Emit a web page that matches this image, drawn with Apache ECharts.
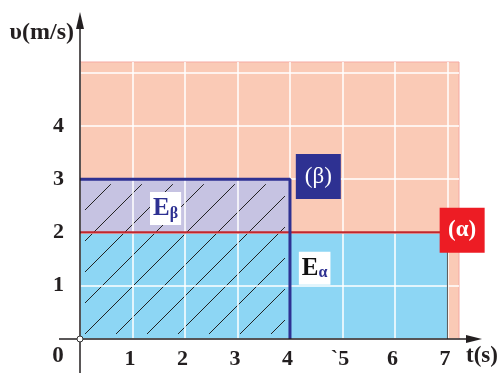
<!DOCTYPE html>
<html>
<head>
<meta charset="utf-8">
<script src="https://cdn.jsdelivr.net/npm/echarts@6/dist/echarts.min.js"></script>
<style>html,body{margin:0;padding:0;background:#fff}#chart{width:502px;height:373px}</style>
</head>
<body>
<div id="chart"></div>
<script>
// data
var xTickLabels = ['0', '1', '2', '3', '4', '`5', '6', '7'];
var yTickLabels = ['0', '1', '2', '3', '4'];
var alphaT = [0, 7];      // body (α): 2 m/s during 0..7 s
var alphaV = 2;
var betaT = [0, 4];       // body (β): 3 m/s during 0..4 s
var betaV = 3;
var tMax = 7.22, vMax = 5.2;
var tagNames = ['(β)', '(α)'];
var tagPos = [[4.54, 3.05], [7.28, 2.04]];
var areaNames = ['β', 'α'];
var areaPos = [[1.63, 2.45], [4.47, 1.33]];

var serif = '"Liberation Serif", "DejaVu Serif", serif';
var navy = '#2E3192';

function rectItem(color) {
    return function (params, api) {
        var p0 = api.coord([api.value(0), api.value(3)]);
        var p1 = api.coord([api.value(1), api.value(2)]);
        return {
            type: 'rect',
            shape: { x: p0[0], y: p0[1], width: p1[0] - p0[0], height: p1[1] - p0[1] },
            style: { fill: color }
        };
    };
}

// diagonal hatching inside a rectangle, 45 degrees on screen
function hatchItem(params, api) {
    var p0 = api.coord([api.value(0), api.value(3)]);
    var p1 = api.coord([api.value(1), api.value(2)]);
    var ins = 5, step = 31;
    var X0 = p0[0] + ins, X1 = p1[0] - ins, Yt = p0[1] + ins, Yb = p1[1] - ins;
    var h = Yb - Yt;
    var kids = [];
    for (var c = X0 - Math.ceil(h / step) * step; c < X1; c += step) {
        var xs = Math.max(X0, c), xe = Math.min(X1, c + h);
        if (xe - xs < 2) continue;
        kids.push({
            type: 'line',
            shape: { x1: xs, y1: Yb - (xs - c), x2: xe, y2: Yb - (xe - c) },
            style: { stroke: '#222', lineWidth: 1 }
        });
    }
    return { type: 'group', children: kids };
}

var myChart = echarts.init(document.getElementById('chart'));

var option = {
    animation: false,
    grid: {
        left: 80, right: 502 - 80 - 379, top: 62, bottom: 34,
        show: true, backgroundColor: '#FACAB6', borderColor: '#F5A9A2', borderWidth: 1
    },
    xAxis: {
        type: 'value', min: 0, max: tMax, interval: 1, z: 3,
        axisLine: { show: false }, axisTick: { show: false },
        splitLine: { show: true, showMaxLine: false, lineStyle: { color: '#fff', width: 1.5 } },
        axisLabel: {
            margin: 9, padding: [0, 5, 0, 0], color: '#231F20',
            fontFamily: serif, fontWeight: 'bold', fontSize: 22,
            formatter: function (v) { return (v > 0 && v === Math.round(v)) ? xTickLabels[v] : ''; }
        }
    },
    yAxis: {
        type: 'value', min: 0, max: vMax, interval: 1, z: 3,
        axisLine: { show: false }, axisTick: { show: false },
        splitLine: { show: true, showMaxLine: false, lineStyle: { color: '#fff', width: 1.5 } },
        axisLabel: {
            margin: 16, color: '#231F20',
            fontFamily: serif, fontWeight: 'bold', fontSize: 22,
            formatter: function (v) { return (v > 0 && v < yTickLabels.length && v === Math.round(v)) ? yTickLabels[v] : ''; }
        }
    },
    series: [
        {
            type: 'custom', z: 1, renderItem: rectItem('#8DD6F4'),
            encode: { x: [0, 1], y: [2, 3] },
            data: [[alphaT[0], alphaT[1], 0, alphaV]]
        },
        {
            type: 'custom', z: 1, renderItem: rectItem('#C6C3E2'),
            encode: { x: [0, 1], y: [2, 3] },
            data: [[betaT[0], betaT[1], alphaV, betaV]]
        },
        {
            type: 'custom', z: 2, renderItem: hatchItem,
            encode: { x: [0, 1], y: [2, 3] },
            data: [[betaT[0], betaT[1], 0, betaV]]
        },
        {
            type: 'line', z: 4, symbol: 'none', clip: false,
            lineStyle: { color: '#555', width: 1 },
            data: [[alphaT[1], 0], [alphaT[1], alphaV]]
        },
        {
            type: 'line', z: 4, symbol: 'none', clip: false,
            lineStyle: { color: '#C1272D', width: 2.2 },
            data: [[alphaT[0], alphaV], [alphaT[1], alphaV]]
        },
        {
            type: 'line', z: 5, symbol: 'none', clip: false,
            lineStyle: { color: navy, width: 3 },
            data: [[betaT[0], betaV], [betaT[1], betaV], [betaT[1], 0]]
        },
        {
            type: 'scatter', z: 6, clip: false, symbolSize: 1,
            itemStyle: { color: 'transparent', opacity: 1 },
            label: {
                show: true, position: 'inside', color: '#fff', opacity: 1,
                fontFamily: serif, fontSize: 23, fontWeight: 'bold',
                width: 45, height: 45, lineHeight: 45, align: 'center', verticalAlign: 'middle',
                formatter: '{b}'
            },
            data: tagNames.map(function (n, i) {
                return {
                    name: n, value: tagPos[i],
                    label: { backgroundColor: i === 0 ? navy : '#ED1C24', fontWeight: i === 0 ? 'normal' : 'bold' }
                };
            })
        },
        {
            type: 'scatter', z: 6, clip: false, symbolSize: 1,
            itemStyle: { color: 'transparent', opacity: 1 },
            label: {
                show: true, position: 'inside', backgroundColor: '#fff', opacity: 1,
                padding: [3, 3, 3, 3],
                formatter: function (p) {
                    return '{e' + p.dataIndex + '|E}{s|' + p.name + '}';
                },
                rich: {
                    e0: { fontFamily: serif, fontWeight: 'bold', fontSize: 25, color: navy, lineHeight: 27 },
                    e1: { fontFamily: serif, fontWeight: 'bold', fontSize: 25, color: '#111', lineHeight: 27 },
                    s: { fontFamily: serif, fontWeight: 'bold', fontSize: 16, color: navy, padding: [10, 0, 0, 0] }
                }
            },
            data: areaNames.map(function (n, i) { return { name: n, value: areaPos[i] }; })
        }
    ]
};

myChart.setOption(option);

// axes with arrows, drawn from the origin pixel
var o = myChart.convertToPixel({ xAxisIndex: 0, yAxisIndex: 0 }, [0, 0]);
var ox = o[0], oy = o[1];
var axisCol = '#231F20';
var txt = { fontFamily: serif, fontWeight: 'bold', fontSize: 23, fill: axisCol };
myChart.setOption({
    graphic: [
        { type: 'line', z: 10, shape: { x1: ox - 21, y1: oy, x2: ox + 390, y2: oy }, style: { stroke: axisCol, lineWidth: 1.5 } },
        { type: 'polygon', z: 10, shape: { points: [[ox + 402, oy], [ox + 386, oy - 4], [ox + 386, oy + 4]] }, style: { fill: axisCol } },
        { type: 'line', z: 10, shape: { x1: ox, y1: 373, x2: ox, y2: 26 }, style: { stroke: axisCol, lineWidth: 1.5 } },
        { type: 'polygon', z: 10, shape: { points: [[ox, 12], [ox - 4, 29], [ox + 4, 29]] }, style: { fill: axisCol } },
        { type: 'circle', z: 11, shape: { cx: ox, cy: oy, r: 3 }, style: { fill: '#fff', stroke: '#333', lineWidth: 1 } },
        { type: 'text', z: 10, x: 74, y: 33, style: Object.assign({ text: 'υ(m/s)', align: 'right', verticalAlign: 'middle' }, txt, { fontSize: 24 }) },
        { type: 'text', z: 10, x: 58, y: 356, style: Object.assign({ text: '0', align: 'center', verticalAlign: 'middle' }, txt) },
        { type: 'text', z: 10, x: 466, y: 356, style: Object.assign({ text: 't(s)', align: 'left', verticalAlign: 'middle' }, txt) }
    ]
});
</script>
</body>
</html>
